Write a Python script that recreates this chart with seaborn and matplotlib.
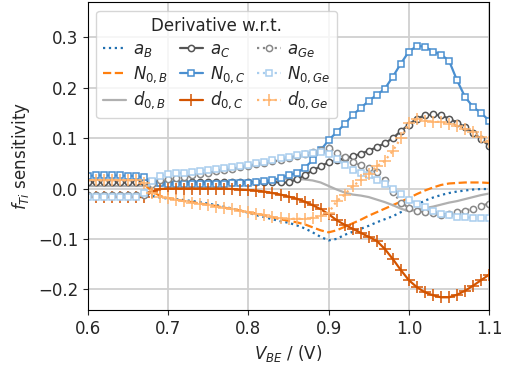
import numpy as np
import pandas as pd
import seaborn as sns
import matplotlib.pyplot as plt

# ----------------------------------------------------
# data, V_BE grid 0.60 ... 1.10 step 0.01
# ----------------------------------------------------
v_be = np.round(np.arange(0.60, 1.1001, 0.01), 2)

a_B = [-0.017, -0.017, -0.017, -0.017, -0.017, -0.017, -0.016, -0.014, -0.015, -0.018,
       -0.020, -0.021, -0.023, -0.025, -0.027, -0.030, -0.033, -0.036, -0.040, -0.044,
       -0.048, -0.053, -0.057, -0.061, -0.065, -0.068, -0.073, -0.079, -0.087, -0.096,
       -0.103, -0.100, -0.092, -0.086, -0.080, -0.074, -0.067, -0.061, -0.055, -0.047,
       -0.040, -0.032, -0.024, -0.018, -0.013, -0.009, -0.006, -0.004, -0.002, -0.001,
       -0.001]
N0_B = [0.012, 0.012, 0.012, 0.012, 0.012, 0.012, 0.011, 0.008, -0.005, -0.015,
        -0.019, -0.022, -0.025, -0.027, -0.030, -0.032, -0.035, -0.038, -0.041, -0.044,
        -0.047, -0.050, -0.053, -0.057, -0.061, -0.064, -0.067, -0.071, -0.077, -0.083,
        -0.087, -0.083, -0.076, -0.069, -0.062, -0.054, -0.047, -0.040, -0.033, -0.026,
        -0.019, -0.011, -0.004, 0.002, 0.007, 0.010, 0.011, 0.012, 0.012, 0.012,
        0.011]
d0_B = [0.005, 0.005, 0.005, 0.005, 0.005, 0.005, 0.005, 0.005, 0.006, 0.006,
        0.007, 0.007, 0.008, 0.008, 0.009, 0.009, 0.010, 0.010, 0.011, 0.012,
        0.013, 0.014, 0.015, 0.016, 0.017, 0.019, 0.019, 0.018, 0.016, 0.012,
        0.005, -0.002, -0.008, -0.012, -0.014, -0.017, -0.022, -0.027, -0.033, -0.040,
        -0.045, -0.042, -0.039, -0.036, -0.032, -0.028, -0.025, -0.021, -0.017, -0.013,
        -0.010]
a_C = [0.012, 0.012, 0.012, 0.012, 0.012, 0.012, 0.012, 0.012, 0.012, 0.012,
       0.012, 0.012, 0.012, 0.012, 0.012, 0.012, 0.012, 0.013, 0.013, 0.013,
       0.013, 0.013, 0.013, 0.013, 0.012, 0.012, 0.018, 0.026, 0.036, 0.044,
       0.052, 0.056, 0.060, 0.064, 0.069, 0.075, 0.082, 0.090, 0.100, 0.114,
       0.127, 0.139, 0.145, 0.147, 0.145, 0.139, 0.131, 0.122, 0.111, 0.098,
       0.085]
N0_C = [0.025, 0.026, 0.026, 0.026, 0.026, 0.025, 0.025, 0.022, 0.012, 0.010,
        0.009, 0.009, 0.009, 0.009, 0.009, 0.009, 0.009, 0.009, 0.010, 0.010,
        0.011, 0.012, 0.014, 0.017, 0.021, 0.026, 0.031, 0.041, 0.056, 0.076,
        0.096, 0.112, 0.128, 0.146, 0.160, 0.174, 0.186, 0.198, 0.222, 0.248,
        0.272, 0.283, 0.282, 0.272, 0.266, 0.254, 0.215, 0.182, 0.162, 0.150,
        0.135]
d0_C = [-0.017, -0.017, -0.017, -0.017, -0.017, -0.017, -0.017, -0.017, -0.006, -0.001,
        0.000, 0.000, 0.000, 0.000, 0.000, 0.000, 0.000, 0.000, -0.001, -0.002,
        -0.003, -0.004, -0.006, -0.009, -0.012, -0.016, -0.020, -0.026, -0.033, -0.041,
        -0.051, -0.063, -0.072, -0.080, -0.088, -0.096, -0.104, -0.120, -0.140, -0.162,
        -0.182, -0.196, -0.206, -0.212, -0.216, -0.216, -0.211, -0.203, -0.193, -0.182,
        -0.171]
a_Ge = [-0.012, -0.012, -0.012, -0.012, -0.012, -0.012, -0.012, -0.012, 0.008, 0.016,
        0.018, 0.020, 0.023, 0.026, 0.028, 0.031, 0.034, 0.036, 0.039, 0.042,
        0.045, 0.048, 0.051, 0.054, 0.056, 0.061, 0.065, 0.069, 0.072, 0.076,
        0.081, 0.070, 0.062, 0.053, 0.046, 0.040, 0.033, 0.017, -0.006, -0.028,
        -0.038, -0.044, -0.047, -0.049, -0.052, -0.050, -0.047, -0.044, -0.040, -0.034,
        -0.030]
N0_Ge = [-0.016, -0.016, -0.016, -0.016, -0.016, -0.016, -0.016, -0.008, 0.015, 0.025,
         0.028, 0.030, 0.031, 0.033, 0.035, 0.037, 0.039, 0.041, 0.043, 0.045,
         0.047, 0.050, 0.053, 0.056, 0.060, 0.063, 0.066, 0.069, 0.071, 0.072,
         0.068, 0.058, 0.046, 0.036, 0.031, 0.026, 0.017, 0.009, 0.000, -0.010,
         -0.022, -0.030, -0.037, -0.044, -0.050, -0.053, -0.056, -0.057, -0.058, -0.058,
         -0.058]
d0_Ge = [0.016, 0.016, 0.016, 0.016, 0.016, 0.016, 0.016, 0.010, -0.008, -0.016,
         -0.019, -0.022, -0.025, -0.028, -0.030, -0.033, -0.036, -0.038, -0.041, -0.044,
         -0.047, -0.050, -0.053, -0.056, -0.059, -0.060, -0.060, -0.060, -0.058, -0.055,
         -0.048, -0.025, -0.012, 0.005, 0.016, 0.028, 0.044, 0.055, 0.075, 0.100,
         0.130, 0.138, 0.135, 0.133, 0.132, 0.129, 0.125, 0.119, 0.112, 0.102,
         0.092]

# ----------------------------------------------------
# style per series: (values, label, color, linestyle, marker)
# ----------------------------------------------------
series = [
    (a_B, r"$a_B$", "#1f6fb0", ":", None),
    (N0_B, r"$N_{0,B}$", "#ff7f0e", "--", None),
    (d0_B, r"$d_{0,B}$", "#b0b0b0", "-", None),
    (a_C, r"$a_C$", "#555555", "-", "o"),
    (N0_C, r"$N_{0,C}$", "#4a8fd0", "-", "s"),
    (d0_C, r"$d_{0,C}$", "#d35400", "-", "+"),
    (a_Ge, r"$a_{Ge}$", "#888888", ":", "o"),
    (N0_Ge, r"$N_{0,Ge}$", "#a8cdee", ":", "s"),
    (d0_Ge, r"$d_{0,Ge}$", "#ffb46e", ":", "+"),
]

sns.set_style("ticks")
plt.rcParams["font.family"] = ["DejaVu Sans"]
plt.rcParams["font.size"] = 12
plt.rcParams["mathtext.fontset"] = "dejavusans"

fig, ax = plt.subplots(figsize=(5.1, 3.65), dpi=100)
fig.subplots_adjust(left=0.1725, right=0.959, top=0.994, bottom=0.151)

for vals, label, color, ls, marker in series:
    kw = dict(color=color, linestyle=ls, linewidth=1.6, label=label)
    if marker is not None:
        kw.update(marker=marker, markersize=4.5 if marker != "+" else 8,
                  markerfacecolor="white" if marker != "+" else color,
                  markeredgecolor=color, markeredgewidth=1.1)
    sns.lineplot(x=v_be, y=vals, ax=ax, **kw)

ax.set_xlim(0.6, 1.1)
ax.set_ylim(-0.241, 0.37)
ax.set_xticks([0.6, 0.7, 0.8, 0.9, 1.0, 1.1])
ax.set_yticks([-0.2, -0.1, 0.0, 0.1, 0.2, 0.3])
ax.grid(True, color="#d0d0d0", linewidth=1.3)
ax.set_axisbelow(True)
for s in ax.spines.values():
    s.set_visible(True)
    s.set_color("black")
    s.set_linewidth(0.8)

ax.set_xlabel(r"$V_{BE}$ / (V)")
ax.set_ylabel(r"$f_{Ti}$ sensitivity")

ax.legend(ncol=3, loc="upper left", title="Derivative w.r.t.",
          fontsize=12, title_fontsize=12, handlelength=1.4,
          columnspacing=0.7, handletextpad=0.4, labelspacing=0.3)

plt.savefig("out.png", dpi=100)
plt.close()
